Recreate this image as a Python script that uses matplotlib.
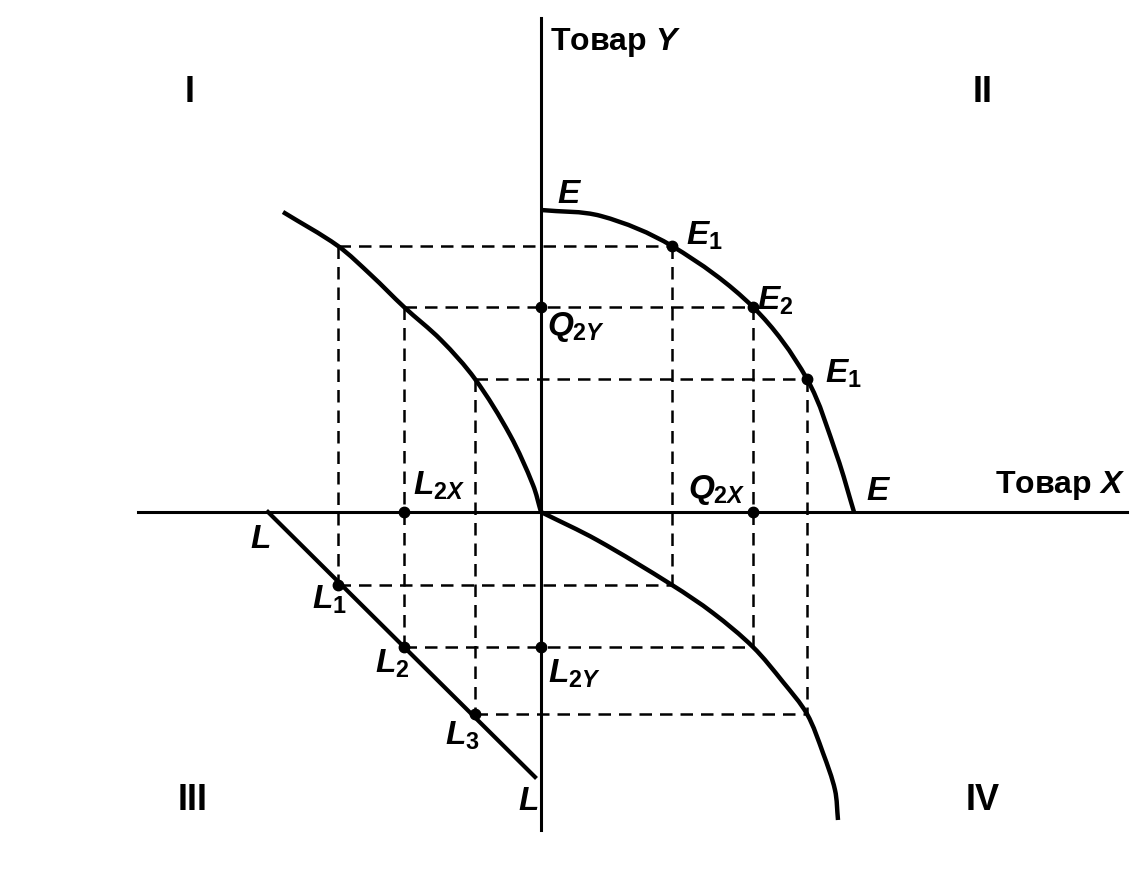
import numpy as np
import matplotlib.pyplot as plt
from matplotlib.path import Path
from matplotlib.patches import PathPatch

plt.rcParams['font.family'] = 'Liberation Sans'
plt.rcParams['mathtext.fontset'] = 'custom'
plt.rcParams['mathtext.rm'] = 'Liberation Sans:bold'
plt.rcParams['mathtext.it'] = 'Liberation Sans:italic:bold'

# values, origin at the crossing of the two axes
ex = [131, 212, 266]          # E1, E2, E1 on the production curve
ey = [266, 205, 133]
lx = [-203, -137, -66]        # L1, L2, L3 on the labour line
ly = [-73, -135, -202]

curve_e_x = [0, 60, 131, 212, 266, 296, 313]
curve_e_y = [302, 296, 266, 205, 133, 56, 0]
curve_1_x = [-258, -203, -170, -137, -100, -66, -31, -8, 0]
curve_1_y = [300, 266, 237, 205, 172, 133, 77, 27, 0]
curve_4_x = [0, 56, 131, 172, 212, 242, 266, 282, 294, 297]
curve_4_y = [0, -28, -73, -101, -135, -170, -202, -241, -278, -308]
line_l_x = [-273, -6]
line_l_y = [0, -265]

axis_x = [-403, 586]
axis_y = [-318, 494]


def smooth_path(xs, ys):
    # smooth curve through the read points, drawn as cubic beziers
    p = np.column_stack([xs, ys]).astype(float)
    n = len(p)
    tang = []
    for i in range(n):
        d = p[min(i + 1, n - 1)] - p[max(i - 1, 0)]
        tang.append(d / np.hypot(*d))
    verts = [p[0]]
    codes = [Path.MOVETO]
    for i in range(n - 1):
        seg = np.hypot(*(p[i + 1] - p[i])) / 3
        verts += [p[i] + tang[i] * seg, p[i + 1] - tang[i + 1] * seg, p[i + 1]]
        codes += [Path.CURVE4] * 3
    return Path(verts, codes)


fig = plt.figure(figsize=(11.44, 8.69), dpi=100)
ax = fig.add_axes([0, 0, 1, 1])
ax.set_xlim(-541, 603)
ax.set_ylim(-357, 512)
ax.axis('off')

# axes
ax.plot(axis_x, [0, 0], color='black', lw=2.2)
ax.plot([0, 0], axis_y, color='black', lw=2.2)

# dashed construction lines
dash = dict(color='black', lw=1.8, dashes=(5, 3.2))
for i in range(3):
    ax.plot([lx[i], ex[i]], [ey[i], ey[i]], **dash)
    ax.plot([lx[i], ex[i]], [ly[i], ly[i]], **dash)
    ax.plot([lx[i], lx[i]], [ey[i], ly[i]], **dash)
    ax.plot([ex[i], ex[i]], [ey[i], ly[i]], **dash)

# curves
for xs, ys in [(curve_e_x, curve_e_y), (curve_1_x, curve_1_y), (curve_4_x, curve_4_y)]:
    ax.add_patch(PathPatch(smooth_path(xs, ys), fill=False, lw=3.2, color='black',
                           capstyle='butt'))
ax.plot(line_l_x, line_l_y, color='black', lw=3.0)

# points
dots_x = ex + lx + [0, lx[1], ex[1], 0]
dots_y = ey + ly + [ey[1], 0, 0, ly[1]]
ax.plot(dots_x, dots_y, 'o', color='black', ms=7.5)

fs = 24
ax.text(9, 462, 'Товар $Y$', fontsize=23, fontweight='bold', va='baseline')
ax.text(584, 19, 'Товар $X$', fontsize=23, fontweight='bold', ha='right', va='baseline')

ax.text(-351, 420, 'I', fontsize=26, fontweight='bold', ha='center', va='center')
ax.text(442, 420, 'II', fontsize=26, fontweight='bold', ha='center', va='center')
ax.text(-348, -288, 'III', fontsize=26, fontweight='bold', ha='center', va='center')
ax.text(442, -288, 'IV', fontsize=26, fontweight='bold', ha='center', va='center')

labels = [
    (16, 309, r'$E$'),
    (145, 267, r'$E_{\mathrm{1}}$'),
    (216, 202, r'$E_{\mathrm{2}}$'),
    (284, 129, r'$E_{\mathrm{1}}$'),
    (325, 12, r'$E$'),
    (6, 177, r'$Q_{\mathrm{2}Y}$'),
    (-128, 17, r'$L_{\mathrm{2}X}$'),
    (147, 14, r'$Q_{\mathrm{2}X}$'),
    (-291, -36, r'$L$'),
    (-229, -97, r'$L_{\mathrm{1}}$'),
    (-166, -161, r'$L_{\mathrm{2}}$'),
    (-96, -233, r'$L_{\mathrm{3}}$'),
    (-23, -298, r'$L$'),
    (7, -171, r'$L_{\mathrm{2}Y}$'),
]
for x, y, s in labels:
    ax.text(x, y, s, fontsize=fs, va='baseline', ha='left')

fig.savefig('out.png', dpi=100)
